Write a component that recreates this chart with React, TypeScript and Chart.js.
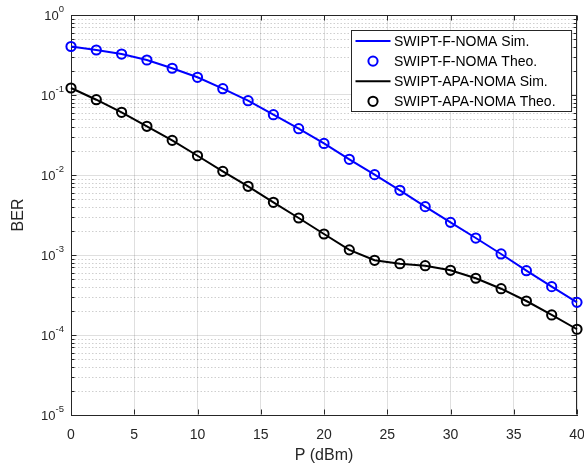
import React, { useEffect, useRef } from 'react';
import { Chart, registerables } from 'chart.js';

Chart.register(...registerables);

// ---- data ----
const powerDbm = [0, 2, 4, 6, 8, 10, 12, 14, 16, 18, 20, 22, 24, 26, 28, 30, 32, 34, 36, 38, 40];
const berFNomaSim = [0.404, 0.365, 0.325, 0.274, 0.216, 0.1665, 0.12, 0.0849, 0.0567, 0.0379, 0.0248, 0.0157, 0.0101, 0.00644, 0.00402, 0.00256, 0.00163, 0.00103, 0.000637, 0.000402, 0.000256];
const berFNomaTheo = [0.404, 0.365, 0.325, 0.274, 0.216, 0.1665, 0.12, 0.0849, 0.0567, 0.0379, 0.0248, 0.0157, 0.0101, 0.00644, 0.00402, 0.00256, 0.00163, 0.00103, 0.000637, 0.000402, 0.000256];
const berApaSim = [0.1224, 0.0873, 0.0608, 0.0406, 0.0271, 0.0174, 0.0111, 0.00722, 0.00456, 0.0029, 0.00183, 0.00116, 0.000859, 0.000778, 0.000735, 0.000644, 0.000512, 0.000379, 0.000266, 0.000178, 0.000118];
const berApaTheo = [0.1224, 0.0873, 0.0608, 0.0406, 0.0271, 0.0174, 0.0111, 0.00722, 0.00456, 0.0029, 0.00183, 0.00116, 0.000859, 0.000778, 0.000735, 0.000644, 0.000512, 0.000379, 0.000266, 0.000178, 0.000118];
const seriesLabels = ['SWIPT-F-NOMA Sim.', 'SWIPT-F-NOMA Theo.', 'SWIPT-APA-NOMA Sim.', 'SWIPT-APA-NOMA Theo.'];
const xTickValues = [0, 5, 10, 15, 20, 25, 30, 35, 40];
const yDecades = [1, 0.1, 0.01, 0.001, 0.0001, 0.00001];
const yExponents = ['0', '-1', '-2', '-3', '-4', '-5'];
const xTitle = 'P (dBm)';
const yTitle = 'BER';

const FONT = '"Liberation Sans", Arial, Helvetica, sans-serif';
const AXIS = '#262626';
const MAJOR_GRID = 'rgba(38,38,38,0.15)';
const MINOR_GRID = 'rgba(38,38,38,0.22)';
const BLUE = '#0000ff';
const BLACK = '#000000';

const toPts = (ys: number[]) => powerDbm.map((x, i) => ({ x, y: ys[i] }));

const matlabPlugin = {
  id: 'matlabAxes',
  beforeDatasetsDraw(chart: any) {
    const { ctx, chartArea: a, scales } = chart;
    const x = scales.x;
    const y = scales.y;
    ctx.save();
    // minor dotted grid
    ctx.strokeStyle = MINOR_GRID;
    ctx.lineWidth = 1;
    ctx.setLineDash([1.5, 2]);
    for (let i = 1; i < yDecades.length; i++) {
      const dec = yDecades[i];
      for (let m = 2; m <= 9; m++) {
        const py = Math.round(y.getPixelForValue(m * dec)) + 0.5;
        ctx.beginPath();
        ctx.moveTo(a.left, py);
        ctx.lineTo(a.right, py);
        ctx.stroke();
      }
    }
    ctx.setLineDash([]);
    // box top & right
    ctx.strokeStyle = AXIS;
    ctx.lineWidth = 1;
    const L = Math.round(a.left) + 0.5;
    const R = Math.round(a.right) - 0.5;
    const T = Math.round(a.top) + 0.5;
    const B = Math.round(a.bottom) - 0.5;
    ctx.beginPath();
    ctx.moveTo(L, T);
    ctx.lineTo(R, T);
    ctx.lineTo(R, B);
    ctx.stroke();
    // inward ticks
    ctx.beginPath();
    xTickValues.forEach((v) => {
      const px = Math.round(x.getPixelForValue(v)) + 0.5;
      ctx.moveTo(px, B);
      ctx.lineTo(px, B - 5);
      ctx.moveTo(px, T);
      ctx.lineTo(px, T + 5);
    });
    yDecades.forEach((dec, i) => {
      const py = Math.round(y.getPixelForValue(dec)) + 0.5;
      ctx.moveTo(L, py);
      ctx.lineTo(L + 5, py);
      ctx.moveTo(R, py);
      ctx.lineTo(R - 5, py);
      if (i > 0) {
        for (let m = 2; m <= 9; m++) {
          const pm = Math.round(y.getPixelForValue(m * dec)) + 0.5;
          ctx.moveTo(L, pm);
          ctx.lineTo(L + 3, pm);
          ctx.moveTo(R, pm);
          ctx.lineTo(R - 3, pm);
        }
      }
    });
    ctx.stroke();
    ctx.restore();
  },
  afterDraw(chart: any) {
    const { ctx, chartArea: a, scales } = chart;
    const y = scales.y;
    ctx.save();
    // y tick labels with superscript exponents
    ctx.fillStyle = AXIS;
    ctx.textBaseline = 'middle';
    ctx.textAlign = 'left';
    const baseFont = `13px ${FONT}`;
    const supFont = `9.5px ${FONT}`;
    yDecades.forEach((dec, i) => {
      const py = y.getPixelForValue(dec);
      ctx.font = baseFont;
      const w1 = ctx.measureText('10').width;
      ctx.font = supFont;
      const w2 = ctx.measureText(yExponents[i]).width;
      const right = a.left - 7;
      ctx.font = baseFont;
      ctx.fillText('10', right - w2 - w1, py + 1.5);
      ctx.font = supFont;
      ctx.fillText(yExponents[i], right - w2, py - 5.5);
    });

    // legend
    const ds = chart.data.datasets;
    ctx.font = `14px ${FONT}`;
    let maxW = 0;
    ds.forEach((d: any) => { maxW = Math.max(maxW, ctx.measureText(d.label).width); });
    const sample = 35;
    const boxW = 4 + sample + 3.5 + maxW + 16;
    const rowH = 20.1;
    const boxH = 81;
    const bx = Math.round(a.right - 6 - boxW) + 0.5;
    const by = Math.round(a.top + 15) + 0.5;
    ctx.fillStyle = '#ffffff';
    ctx.fillRect(bx, by, boxW, boxH);
    ctx.strokeStyle = AXIS;
    ctx.lineWidth = 1;
    ctx.strokeRect(bx, by, boxW, boxH);
    ds.forEach((d: any, i: number) => {
      const cy = by + 10.5 + i * rowH;
      const sx = bx + 4;
      if (d.showLine !== false) {
        ctx.strokeStyle = d.borderColor;
        ctx.lineWidth = d.borderWidth;
        ctx.beginPath();
        ctx.moveTo(sx, cy);
        ctx.lineTo(sx + sample, cy);
        ctx.stroke();
      } else {
        ctx.strokeStyle = d.pointBorderColor;
        ctx.lineWidth = d.pointBorderWidth;
        ctx.beginPath();
        ctx.arc(sx + sample / 2, cy, d.pointRadius, 0, Math.PI * 2);
        ctx.stroke();
      }
      ctx.fillStyle = '#000000';
      ctx.textBaseline = 'middle';
      ctx.textAlign = 'left';
      ctx.fillText(d.label, sx + sample + 3.5, cy + 1);
    });
    ctx.restore();
  },
};

export default function App() {
  const ref = useRef<HTMLCanvasElement | null>(null);
  useEffect(() => {
    if (!ref.current) return;
    Chart.defaults.font.family = FONT;
    const lineDs = (label: string, data: number[], color: string) => ({
      label,
      data: toPts(data),
      borderColor: color,
      backgroundColor: color,
      borderWidth: 2,
      pointRadius: 0,
      showLine: true,
      tension: 0,
      clip: false as any,
    });
    const markDs = (label: string, data: number[], color: string) => ({
      label,
      data: toPts(data),
      borderColor: color,
      backgroundColor: 'rgba(0,0,0,0)',
      pointBorderColor: color,
      pointBackgroundColor: 'rgba(0,0,0,0)',
      pointBorderWidth: 2,
      pointRadius: 4.6,
      pointStyle: 'circle',
      showLine: false,
      clip: false as any,
    });
    const chart = new Chart(ref.current, {
      type: 'line',
      data: {
        datasets: [
          lineDs(seriesLabels[0], berFNomaSim, BLUE),
          markDs(seriesLabels[1], berFNomaTheo, BLUE),
          lineDs(seriesLabels[2], berApaSim, BLACK),
          markDs(seriesLabels[3], berApaTheo, BLACK),
        ] as any,
      },
      options: {
        animation: false,
        responsive: false,
        layout: { padding: { top: 15, right: 7, left: 0, bottom: 0 } },
        plugins: { legend: { display: false }, tooltip: { enabled: false } },
        scales: {
          x: {
            type: 'linear',
            min: 0,
            max: 40,
            afterBuildTicks: (s: any) => { s.ticks = xTickValues.map((v) => ({ value: v })); },
            afterFit: (s: any) => { s.height = 53; s.paddingLeft = 0; s.paddingRight = 0; },
            ticks: { font: { size: 14 }, color: AXIS, padding: 12, maxRotation: 0, autoSkip: false },
            grid: { color: MAJOR_GRID, drawTicks: false },
            border: { color: AXIS, width: 1 },
            title: { display: true, text: xTitle, color: AXIS, font: { size: 16 }, padding: { top: 0, bottom: 3 } },
          },
          y: {
            type: 'logarithmic',
            min: 1e-5,
            max: 1,
            afterBuildTicks: (s: any) => { s.ticks = yDecades.map((v) => ({ value: v })); },
            afterFit: (s: any) => { s.width = 71; s.paddingTop = 0; s.paddingBottom = 0; },
            ticks: { display: false },
            grid: { color: MAJOR_GRID, drawTicks: false },
            border: { color: AXIS, width: 1 },
            title: { display: true, text: yTitle, color: AXIS, font: { size: 16 }, padding: { top: 9, bottom: 0 } },
          },
        },
      } as any,
      plugins: [matlabPlugin],
    });
    return () => chart.destroy();
  }, []);
  return (
    <div style={{ position: 'fixed', left: 0, top: 0, width: 584, height: 468, background: '#ffffff' }}>
      <canvas ref={ref} width={584} height={468} style={{ display: 'block' }} />
    </div>
  );
}
